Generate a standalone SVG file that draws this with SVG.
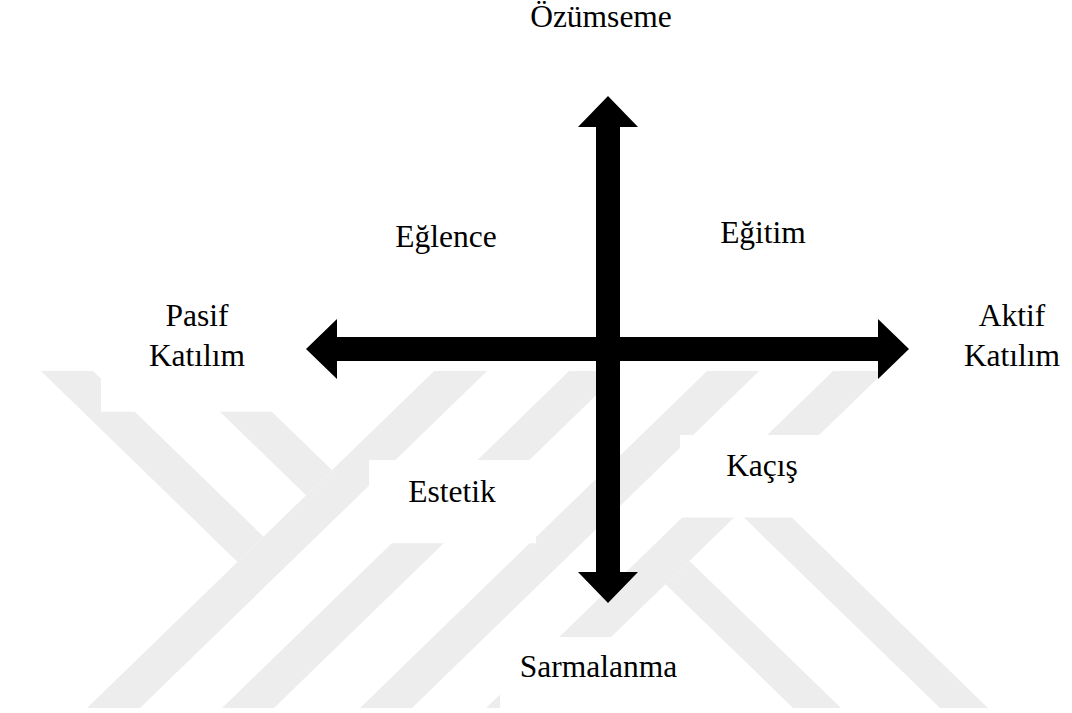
<svg xmlns="http://www.w3.org/2000/svg" width="1072" height="713" viewBox="0 0 1072 713">
<style>
.wm{fill:#ededed}
.box{fill:#ffffff}
.lbl{font-family:"Liberation Serif","Times New Roman",serif;font-size:31.5px;fill:#000;text-anchor:middle}
.ax{fill:#000}
</style>
<defs>
<clipPath id="wmclip"><rect x="0" y="371" width="1072" height="337"/></clipPath>
</defs>
<rect width="1072" height="713" fill="#ffffff"/>
<g id="watermark" clip-path="url(#wmclip)">
<polygon class="wm" points="434.1,371 487.1,371 140,708 87,708"/>
<polygon class="wm" points="569.1,371 621.1,371 274,708 222,708"/>
<polygon class="wm" points="707.1,371 759.1,371 412,708 360,708"/>
<polygon class="wm" points="833.1,371 885.1,371 538,708 486,708"/>
<polygon class="wm" points="40.9,371 92.9,371 263.5,536.6 237.5,561.9"/>
<polygon class="wm" points="177.9,371 229.9,371 332,470.1 306,495.3"/>
<polygon class="wm" points="665.5,584.2 689.5,560.9 841,708 793,708"/>
<polygon class="wm" points="739,512.8 763,489.5 988,708 940,708"/>
</g>
<g id="connectors">
<polygon class="ax" points="306,349 337,319 337,337 878,337 878,319 909,349 878,379 878,361 337,361 337,379"/>
<polygon class="ax" points="608,96 578,127 596,127 596,572 578,572 608,603 638,572 620,572 620,127 638,127"/>
</g>
<g id="node-ozumseme"><text class="lbl" x="601" y="27">Özümseme</text></g>
<g id="node-eglence"><text class="lbl" x="446" y="247">Eğlence</text></g>
<g id="node-egitim"><text class="lbl" x="763" y="243">Eğitim</text></g>
<g id="node-pasif">
<rect class="box" x="101" y="285" width="199" height="126.7"/>
<text class="lbl" x="197" y="326">Pasif</text>
<text class="lbl" x="197" y="366">Katılım</text>
</g>
<g id="node-aktif">
<text class="lbl" x="1012" y="326">Aktif</text>
<text class="lbl" x="1012" y="366">Katılım</text>
</g>
<g id="node-estetik">
<rect class="box" x="369" y="460" width="167" height="83.3"/>
<text class="lbl" x="452" y="502">Estetik</text>
</g>
<g id="node-kacis">
<rect class="box" x="680" y="435" width="155" height="82.5"/>
<text class="lbl" x="762" y="476">Kaçış</text>
</g>
<g id="node-sarmalanma">
<rect class="box" x="500" y="637" width="220" height="76"/>
<text class="lbl" x="598.5" y="677">Sarmalanma</text>
</g>
</svg>
